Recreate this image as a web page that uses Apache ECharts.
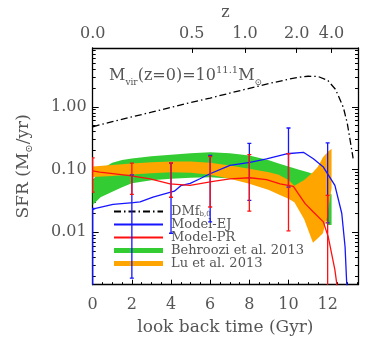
<!DOCTYPE html>
<html>
<head>
<meta charset="utf-8">
<script src="https://cdn.jsdelivr.net/npm/echarts@6/dist/echarts.min.js"></script>
<style>
  html, body { margin: 0; padding: 0; background: #fff; }
  #chart-container { width: 374px; height: 343px; }
</style>
</head>
<body>
<div id="chart-container"></div>
<script>
var lg = Math.log10;

// DM accretion rate * f_b (dash-dot)
var dmT = [0, 1, 2, 3, 4, 5, 6, 7, 8, 9, 10, 10.5, 11, 11.5, 12, 12.4, 12.8, 13.0, 13.15, 13.3];
var dmSfr = [0.48, 0.58, 0.69, 0.82, 0.98, 1.17, 1.38, 1.65, 1.97, 2.35, 2.75, 2.95, 3.07, 3.05, 2.65, 1.9, 0.98, 0.55, 0.29, 0.15];

// Model-EJ (blue)
var ejT = [0, 0.15, 1.04, 2.07, 2.42, 3.08, 4.17, 4.5, 4.98, 5.48, 5.99, 7.01, 8.03, 8.88, 9.9, 10.76, 11.27, 11.78, 12.37, 12.46, 12.72, 12.89, 12.97, 13.05];
var ejSfr = [0.0229, 0.024, 0.0278, 0.0296, 0.0303, 0.0363, 0.045, 0.055, 0.06, 0.071, 0.0855, 0.116, 0.13, 0.148, 0.178, 0.188, 0.148, 0.109, 0.0557, 0.052, 0.02, 0.0058, 0.0016, 0.0008];

// Model-PR (red)
var prT = [0, 0.36, 1.9, 2.93, 3.95, 4.97, 6.15, 7.01, 8.03, 8.88, 9.57, 10.25, 10.5, 10.85, 11.27, 11.78, 12.03, 12.2, 12.37, 12.46, 12.55];
var prSfr = [0.0946, 0.0906, 0.08, 0.071, 0.059, 0.0557, 0.0645, 0.071, 0.0738, 0.0687, 0.059, 0.0537, 0.0411, 0.0285, 0.021, 0.0146, 0.0084, 0.0046, 0.0025, 0.00155, 0.0008];

// error bars of the two models
var errT = [0, 2, 4, 6, 8, 10, 12];
var ejLow = [0.0008, 0.00184, 0.0096, 0.0146, 0.0322, 0.0524, 0.0141];
var ejHigh = [0.024, 0.082, 0.126, 0.167, 0.261, 0.459, 0.265];
var prLow = [0.0436, 0.040, 0.036, 0.0252, 0.0216, 0.0105, 0.0008];
var prHigh = [0.153, 0.126, 0.127, 0.161, 0.173, 0.178, 0.0386];

// Behroozi et al. 2013 band (green)
var beT = [0, 0.4, 1, 1.5, 2, 3, 4, 5, 6, 7, 8, 9, 9.5, 10, 10.5, 11, 11.3, 11.6, 11.8, 12.0, 12.2];
var beLow = [0.027, 0.036, 0.044, 0.052, 0.06, 0.067, 0.071, 0.074, 0.075, 0.072, 0.067, 0.06, 0.056, 0.052, 0.055, 0.065, 0.06, 0.045, 0.02, 0.013, 0.013];
var beHigh = [0.067, 0.1, 0.128, 0.141, 0.15, 0.162, 0.172, 0.181, 0.188, 0.182, 0.167, 0.14, 0.125, 0.112, 0.1, 0.09, 0.084, 0.073, 0.066, 0.045, 0.04];

// Lu et al. 2013 band (orange)
var luT = [0, 1, 2, 3, 4, 5, 6, 7, 8, 9, 9.5, 10, 10.3, 10.8, 11.25, 11.5, 11.76, 12.0, 12.2];
var luLow = [0.0755, 0.079, 0.083, 0.087, 0.09, 0.089, 0.082, 0.071, 0.059, 0.047, 0.04, 0.034, 0.03, 0.016, 0.0068, 0.008, 0.0096, 0.02, 0.05];
var luHigh = [0.112, 0.118, 0.124, 0.13, 0.134, 0.134, 0.128, 0.116, 0.103, 0.09, 0.082, 0.068, 0.055, 0.068, 0.09, 0.11, 0.157, 0.19, 0.215];

// axis ticks
var xTicks = [0, 2, 4, 6, 8, 10, 12];
var zTicks = [0, 5.06, 7.78, 10.42, 12.2];
var zLabels = ['0.0', '0.5', '1.0', '2.0', '4.0'];
var yTicks = [-2, -1, 0];

var xMin = 0, xMax = 13.55;
var yMin = lg(0.00145), yMax = lg(8.7);

var xMinor = [];
for (var i = 1; i * 0.5 < xMax; i++) if (i % 4) xMinor.push(i * 0.5);
var yMinor = [];
for (var d = -3; d <= 0; d++) {
  for (var k = 2; k <= 9; k++) {
    var v = d + lg(k);
    if (v > yMin && v < yMax) yMinor.push(v);
  }
}

var FONT = 'DejaVu Serif';
var GREY = '#555';

function pairs(ts, vs) {
  return ts.map(function (t, i) { return [t, lg(vs[i])]; });
}

function band(name, color, ts, lo, hi) {
  return {
    type: 'custom',
    name: name,
    clip: true,
    silent: true,
    itemStyle: { color: color },
    data: ts.map(function (t, i) { return [t, lg(lo[i]), lg(hi[i])]; }),
    renderItem: function (params, api) {
      if (params.dataIndex !== 0) return;
      var up = [], dn = [];
      for (var j = 0; j < ts.length; j++) {
        up.push(api.coord([ts[j], lg(hi[j])]));
        dn.unshift(api.coord([ts[j], lg(lo[j])]));
      }
      return {
        type: 'polygon',
        shape: { points: up.concat(dn) },
        style: { fill: color }
      };
    }
  };
}

function errBars(color, lo, hi) {
  return {
    type: 'custom',
    clip: true,
    silent: true,
    z: 4,
    data: errT.map(function (t, i) { return [t, lg(lo[i]), lg(hi[i])]; }),
    renderItem: function (params, api) {
      var a = api.coord([api.value(0), api.value(1)]);
      var b = api.coord([api.value(0), api.value(2)]);
      var st = { stroke: color, lineWidth: 1.3 };
      return {
        type: 'group',
        children: [
          { type: 'line', shape: { x1: a[0], y1: a[1], x2: b[0], y2: b[1] }, style: st },
          { type: 'line', shape: { x1: a[0] - 2, y1: a[1], x2: a[0] + 2, y2: a[1] }, style: st },
          { type: 'line', shape: { x1: b[0] - 2, y1: b[1], x2: b[0] + 2, y2: b[1] }, style: st }
        ]
      };
    }
  };
}

function line(name, color, ts, vs, type) {
  return {
    type: 'line',
    name: name,
    data: pairs(ts, vs),
    symbol: 'none',
    clip: true,
    silent: true,
    z: 3,
    itemStyle: { color: color },
    lineStyle: { color: color, width: 1.3, type: type || 'solid' }
  };
}

var axisLine = { show: true, onZero: false, lineStyle: { color: '#000', width: 1.3 } };
var noLine = { show: false, onZero: false };

function xAx(pos, ticks, len, label) {
  return {
    type: 'value', min: xMin, max: xMax, position: pos,
    axisLine: label ? axisLine : noLine,
    splitLine: { show: false },
    axisTick: { show: true, inside: true, length: len, customValues: ticks, lineStyle: { color: '#000', width: 1 } },
    axisLabel: { show: false }
  };
}
function yAx(pos, ticks, len, main) {
  return {
    type: 'value', min: yMin, max: yMax, position: pos,
    axisLine: main ? axisLine : noLine,
    splitLine: { show: false },
    axisTick: { show: true, inside: true, length: len, customValues: ticks, lineStyle: { color: '#000', width: 1 } },
    axisLabel: { show: false }
  };
}

var xBottom = xAx('bottom', xTicks, 5, true);
xBottom.axisLabel = {
  show: true, customValues: xTicks, fontFamily: FONT, fontSize: 16, color: GREY, margin: 12
};
xBottom.name = 'look back time (Gyr)';
xBottom.nameLocation = 'middle';
xBottom.nameGap = 34;
xBottom.nameTextStyle = { fontFamily: FONT, fontSize: 17, color: GREY };

var xTop = xAx('top', zTicks, 5, true);
xTop.axisLabel = {
  show: true, customValues: zTicks, fontFamily: FONT, fontSize: 16, color: GREY, margin: 6,
  formatter: function (v) {
    var best = 0;
    zTicks.forEach(function (z, i) { if (Math.abs(z - v) < Math.abs(zTicks[best] - v)) best = i; });
    return zLabels[best];
  }
};
xTop.name = 'z';
xTop.nameLocation = 'middle';
xTop.nameGap = 24;
xTop.nameTextStyle = { fontFamily: FONT, fontSize: 16, color: GREY };

var yLeft = yAx('left', yTicks, 6, true);
yLeft.axisLabel = {
  show: true, customValues: yTicks, fontFamily: FONT, fontSize: 16, color: GREY, margin: 6,
  formatter: function (v) { return Math.pow(10, v).toFixed(2); }
};
yLeft.name = '{m|SFR (M}{s|⊙}{m|/yr)}';
yLeft.nameLocation = 'middle';
yLeft.nameGap = 58;
yLeft.nameTextStyle = {
  color: GREY,
  rich: {
    m: { fontFamily: FONT, fontSize: 17, color: GREY, lineHeight: 22 },
    s: { fontFamily: FONT, fontSize: 10, color: GREY, verticalAlign: 'bottom', lineHeight: 22 }
  }
};

var dom = document.getElementById('chart-container');
var myChart = echarts.init(dom, null, { renderer: 'canvas' });

var option = {
  animation: false,
  backgroundColor: '#fff',
  grid: { left: 92.7, right: 16, top: 46.7, bottom: 58.3, containLabel: false },
  title: {
    text: '{m|M}{s|vir}{m|(z=0)=10}{p|11.1}{m|M}{s|⊙}',
    left: 104, top: 60,
    textStyle: {
      fontWeight: 'normal',
      rich: {
        m: { fontFamily: FONT, fontSize: 16, fontWeight: 'normal', color: GREY, lineHeight: 22 },
        s: { fontFamily: FONT, fontSize: 9, fontWeight: 'normal', color: GREY, verticalAlign: 'bottom', lineHeight: 22 },
        p: { fontFamily: FONT, fontSize: 10, fontWeight: 'normal', color: GREY, verticalAlign: 'top', lineHeight: 22 }
      }
    }
  },
  legend: {
    data: [
      { name: 'DMf', itemStyle: { opacity: 0 } },
      { name: 'Model-EJ', itemStyle: { opacity: 0 } },
      { name: 'Model-PR', itemStyle: { opacity: 0 } },
      { name: 'Behroozi et al. 2013', icon: 'rect' },
      { name: 'Lu et al. 2013', icon: 'rect' }
    ],
    orient: 'vertical',
    left: 108, top: 200,
    itemWidth: 49, itemHeight: 5, itemGap: 0,
    selectedMode: false,
    formatter: function (n) { return n === 'DMf' ? '{a|DMf}{b|b,0}' : n; },
    textStyle: {
      fontFamily: FONT, fontSize: 13, color: GREY, lineHeight: 12.75, padding: [0, 0, 0, 3],
      rich: {
        a: { fontFamily: FONT, fontSize: 13, color: GREY, lineHeight: 12.75 },
        b: { fontFamily: FONT, fontSize: 7, color: GREY, verticalAlign: 'bottom', lineHeight: 12.75 }
      }
    }
  },
  xAxis: [xBottom, xAx('bottom', xMinor, 2.5, false), xTop],
  yAxis: [yLeft, yAx('left', yMinor, 3, false), yAx('right', yTicks, 6, true), yAx('right', yMinor, 3, false)],
  series: [
    band('Behroozi et al. 2013', '#33cc33', beT, beLow, beHigh),
    band('Lu et al. 2013', '#ffa500', luT, luLow, luHigh),
    line('Model-EJ', '#1515ff', ejT, ejSfr),
    line('Model-PR', '#ff1010', prT, prSfr),
    errBars('#1515ff', ejLow, ejHigh),
    errBars('#ff1010', prLow, prHigh),
    line('DMf', '#000', dmT, dmSfr, [7, 3, 1.5, 3])
  ]
};

myChart.setOption(option);
window.addEventListener('resize', myChart.resize);
</script>
</body>
</html>
